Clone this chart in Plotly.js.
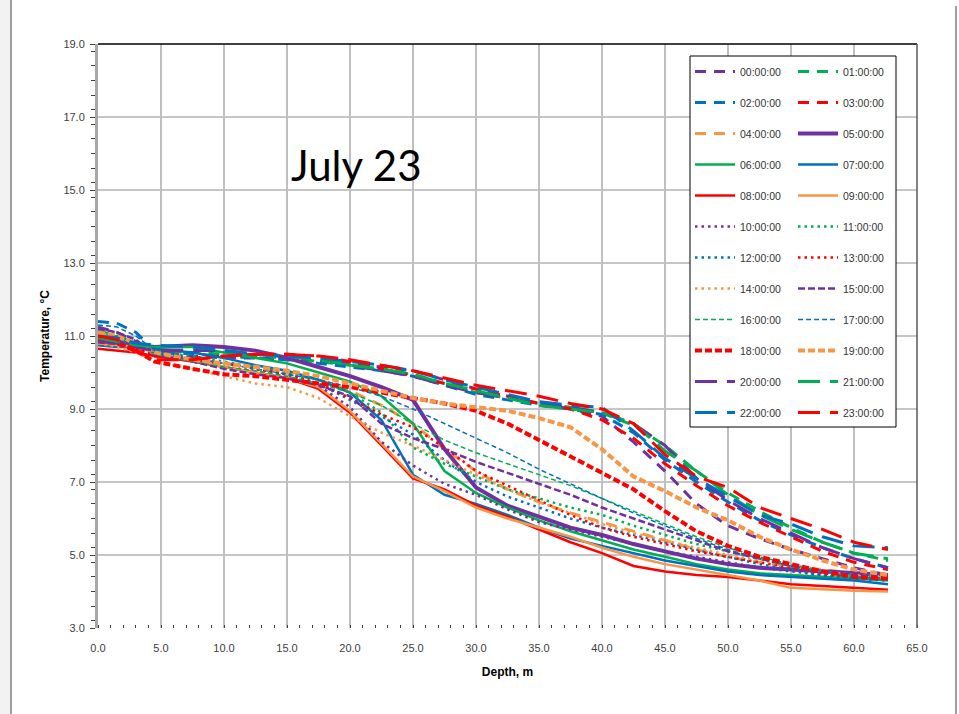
<!DOCTYPE html>
<html><head><meta charset="utf-8">
<script src="https://cdn.plot.ly/plotly-3.0.1.min.js"></script>
<style>html,body{margin:0;padding:0;background:#fff;} #chart{width:959px;height:714px;}</style>
</head><body><div id="chart"></div>
<script>
// Depth (m)
const depth = [0, 1.5, 3, 4.5, 7.5, 10, 12.5, 15, 17.5, 20, 22.5, 25, 27.5, 30, 32.5, 35, 37.5, 40, 42.5, 45, 47.5, 50, 52.5, 55, 57.5, 60, 62.7];

// Temperature (°C) per hour
const t00 = [11.25, 11.1, 10.85, 10.55, 10.45, 10.4, 10.4, 10.35, 10.3, 10.25, 10.15, 10.05, 9.8, 9.55, 9.35, 9.15, 9.0, 8.8, 8.1, 7.3, 6.4, 5.8, 5.45, 5.15, 4.9, 4.65, 4.45];
const t01 = [11.15, 11.0, 10.8, 10.6, 10.55, 10.5, 10.45, 10.4, 10.3, 10.2, 10.05, 9.95, 9.7, 9.45, 9.3, 9.15, 9.05, 8.9, 8.55, 8.0, 7.3, 6.7, 6.2, 5.75, 5.35, 5.05, 4.85];
const t02 = [11.4, 11.35, 11.1, 10.6, 10.5, 10.45, 10.4, 10.35, 10.25, 10.15, 10.05, 9.9, 9.65, 9.4, 9.25, 9.1, 9.0, 8.85, 8.35, 7.6, 7.0, 6.45, 5.95, 5.55, 5.2, 4.9, 4.65];
const t03 = [11.0, 10.9, 10.7, 10.45, 10.4, 10.45, 10.5, 10.5, 10.45, 10.3, 10.1, 9.9, 9.7, 9.55, 9.35, 9.15, 9.0, 8.7, 8.2, 7.5, 6.9, 6.35, 5.9, 5.5, 5.1, 4.8, 4.6];
const t04 = [11.1, 10.95, 10.75, 10.5, 10.35, 10.25, 10.15, 10.0, 9.8, 9.5, 9.1, 8.6, 7.9, 7.3, 6.8, 6.45, 6.15, 5.9, 5.65, 5.4, 5.15, 4.95, 4.8, 4.7, 4.6, 4.5, 4.45];
const t05 = [10.9, 10.85, 10.75, 10.7, 10.75, 10.7, 10.6, 10.4, 10.15, 9.9, 9.6, 9.25, 7.9, 6.85, 6.35, 6.05, 5.75, 5.55, 5.3, 5.1, 4.9, 4.75, 4.65, 4.6, 4.55, 4.5, 4.45];
const t06 = [10.8, 10.75, 10.7, 10.7, 10.7, 10.55, 10.4, 10.25, 10.0, 9.75, 9.35, 8.6, 7.3, 6.7, 6.3, 5.95, 5.65, 5.4, 5.15, 4.95, 4.75, 4.6, 4.5, 4.45, 4.4, 4.35, 4.3];
const t07 = [10.75, 10.7, 10.7, 10.65, 10.55, 10.4, 10.2, 10.05, 9.8, 9.45, 8.7, 7.2, 6.65, 6.4, 6.1, 5.75, 5.45, 5.25, 5.05, 4.85, 4.7, 4.55, 4.45, 4.4, 4.35, 4.3, 4.2];
const t08 = [10.65, 10.6, 10.55, 10.45, 10.3, 10.15, 10.0, 9.85, 9.55, 8.9, 8.0, 7.1, 6.8, 6.35, 6.05, 5.7, 5.35, 5.05, 4.7, 4.55, 4.45, 4.4, 4.3, 4.2, 4.15, 4.1, 4.05];
const t09 = [10.8, 10.75, 10.7, 10.55, 10.35, 10.15, 10.0, 9.85, 9.6, 8.95, 8.05, 7.15, 6.75, 6.3, 6.0, 5.75, 5.5, 5.2, 4.95, 4.75, 4.6, 4.45, 4.3, 4.1, 4.05, 4.02, 4.0];
const t10 = [10.9, 10.85, 10.7, 10.5, 10.35, 10.25, 10.1, 9.95, 9.65, 9.05, 8.1, 7.45, 6.95, 6.65, 6.25, 5.9, 5.7, 5.5, 5.3, 5.1, 4.95, 4.8, 4.65, 4.55, 4.45, 4.4, 4.35];
const t11 = [10.95, 10.9, 10.75, 10.55, 10.45, 10.3, 10.15, 10.0, 9.8, 9.45, 8.9, 7.95, 7.5, 7.15, 6.8, 6.55, 6.3, 6.1, 5.8, 5.55, 5.3, 5.1, 4.9, 4.7, 4.55, 4.45, 4.4];
const t12 = [11.0, 10.9, 10.75, 10.55, 10.4, 10.25, 10.1, 9.95, 9.7, 9.25, 8.8, 8.3, 7.6, 7.0, 6.6, 6.3, 6.0, 5.75, 5.55, 5.35, 5.15, 4.95, 4.75, 4.6, 4.45, 4.35, 4.3];
const t13 = [10.9, 10.8, 10.65, 10.45, 10.35, 10.25, 10.1, 9.95, 9.7, 9.3, 8.85, 8.5, 7.95, 7.3, 6.9, 6.5, 6.1, 5.75, 5.5, 5.3, 5.1, 4.95, 4.8, 4.65, 4.5, 4.4, 4.35];
const t14 = [10.8, 10.7, 10.55, 10.3, 10.1, 9.9, 9.7, 9.6, 9.3, 8.8, 8.35, 8.0, 7.6, 7.2, 6.8, 6.45, 6.15, 5.85, 5.6, 5.4, 5.2, 5.0, 4.85, 4.7, 4.55, 4.45, 4.4];
const t15 = [11.2, 11.1, 10.9, 10.5, 10.3, 10.1, 9.95, 9.85, 9.65, 9.35, 8.6, 8.2, 7.9, 7.55, 7.25, 6.95, 6.65, 6.3, 6.0, 5.7, 5.4, 5.1, 4.9, 4.7, 4.55, 4.45, 4.4];
const t16 = [11.1, 11.0, 10.8, 10.5, 10.3, 10.15, 10.05, 9.9, 9.7, 9.45, 9.1, 8.6, 8.15, 7.8, 7.5, 7.2, 6.9, 6.55, 6.2, 5.85, 5.5, 5.2, 4.95, 4.75, 4.55, 4.4, 4.35];
const t17 = [11.3, 11.25, 11.0, 10.6, 10.4, 10.25, 10.1, 9.95, 9.8, 9.6, 9.35, 9.0, 8.6, 8.2, 7.8, 7.35, 6.95, 6.55, 6.15, 5.8, 5.45, 5.15, 4.9, 4.7, 4.55, 4.4, 4.35];
const t18 = [10.85, 10.8, 10.6, 10.3, 10.1, 9.95, 9.9, 9.8, 9.7, 9.6, 9.45, 9.3, 9.15, 8.95, 8.6, 8.15, 7.7, 7.25, 6.8, 6.2, 5.65, 5.25, 4.95, 4.75, 4.55, 4.4, 4.35];
const t19 = [11.1, 11.0, 10.8, 10.55, 10.35, 10.25, 10.15, 10.05, 9.9, 9.7, 9.5, 9.3, 9.15, 9.05, 8.95, 8.75, 8.5, 7.9, 7.15, 6.75, 6.3, 5.95, 5.5, 5.15, 4.85, 4.6, 4.45];
const t20 = [10.85, 10.8, 10.7, 10.6, 10.6, 10.6, 10.5, 10.45, 10.35, 10.2, 10.05, 9.9, 9.65, 9.45, 9.3, 9.15, 9.05, 8.9, 8.6, 8.0, 7.1, 6.5, 6.0, 5.6, 5.2, 4.9, 4.65];
const t21 = [10.95, 10.85, 10.75, 10.7, 10.7, 10.6, 10.5, 10.45, 10.35, 10.2, 10.1, 9.95, 9.7, 9.5, 9.3, 9.1, 9.0, 8.9, 8.6, 7.85, 7.3, 6.65, 6.1, 5.7, 5.35, 5.05, 4.9];
const t22 = [11.0, 10.95, 10.8, 10.75, 10.7, 10.6, 10.5, 10.45, 10.4, 10.3, 10.2, 10.05, 9.8, 9.6, 9.4, 9.2, 9.1, 9.05, 8.4, 7.65, 7.1, 6.6, 6.1, 5.85, 5.5, 5.25, 5.2];
const t23 = [11.0, 10.9, 10.6, 10.35, 10.35, 10.45, 10.5, 10.5, 10.45, 10.35, 10.2, 10.05, 9.85, 9.65, 9.5, 9.35, 9.15, 9.0, 8.6, 7.75, 7.15, 6.85, 6.3, 6.0, 5.7, 5.35, 5.15];

const seriesNames = ['00:00:00','01:00:00','02:00:00','03:00:00','04:00:00','05:00:00','06:00:00','07:00:00',
  '08:00:00','09:00:00','10:00:00','11:00:00','12:00:00','13:00:00','14:00:00','15:00:00','16:00:00',
  '17:00:00','18:00:00','19:00:00','20:00:00','21:00:00','22:00:00','23:00:00'];
const series = [t00,t01,t02,t03,t04,t05,t06,t07,t08,t09,t10,t11,t12,t13,t14,t15,t16,t17,t18,t19,t20,t21,t22,t23];

const xTickValues = [0,5,10,15,20,25,30,35,40,45,50,55,60,65];
const yTickValues = [3,5,7,9,11,13,15,17,19];
const yGridValues = [5,7,9,11,13,15,17];

const palette = ['#7030A0','#00B050','#0070C0','#FF0000','#F79646'];
function lineStyle(i){
  const c = palette[i % 5];
  if (i < 5) return {color:c, width:3, dash:'11px,8px'};
  if (i < 10) return {color:c, width:(i === 5 ? 4 : 2.5), dash:'solid'};
  if (i < 15) return {color:c, width:2.5, dash:'2.5px,4px'};
  if (i < 20) {
    if (i === 15) return {color:c, width:2.5, dash:'7px,3px'};
    if (i < 18) return {color:c, width:1.5, dash:'5px,3px'};
    return {color:c, width:4, dash:'7px,3px'};
  }
  return {color:c, width:3, dash:'22px,10px'};
}

const traces = series.map((vals, i) => ({
  type:'scatter', mode:'lines', x:depth, y:vals, name:seriesNames[i],
  line:lineStyle(i), legendgroup:seriesNames[i],
  legend:(i % 2 === 0 ? 'legend' : 'legend2'), hoverinfo:'skip'
}));

const W = 959, H = 714, L = 98, R = 917, T = 44, B = 628;
const px = v => (v - L) / (R - L);
const py = v => (B - v) / (B - T);

const shapes = [];
yGridValues.forEach(v => shapes.push({type:'line', xref:'paper', yref:'y', x0:0, x1:1, y0:v, y1:v,
  line:{color:'#8C8C8C', width:1}, layer:'below'}));
shapes.push({type:'rect', xref:'paper', yref:'paper', x0:px(690), x1:px(896), y0:py(427), y1:py(56),
  fillcolor:'#ffffff', line:{color:'#000000', width:1}, layer:'above'});
shapes.push({type:'line', xref:'paper', yref:'paper', x0:0, x1:1, y0:1, y1:1, line:{color:'#000', width:1.5}, layer:'above'});
shapes.push({type:'line', xref:'paper', yref:'paper', x0:1, x1:1, y0:0, y1:1, line:{color:'#595959', width:1.5}, layer:'above'});
shapes.push({type:'rect', xref:'paper', yref:'paper', x0:px(0), x1:px(11), y0:py(714), y1:py(0), fillcolor:'#f2f2f2', line:{width:0}, layer:'below'});
shapes.push({type:'line', xref:'paper', yref:'paper', x0:px(11), x1:px(11), y0:py(714), y1:py(0), line:{color:'#7f7f7f', width:1.5}});
shapes.push({type:'line', xref:'paper', yref:'paper', x0:px(956), x1:px(956), y0:py(714), y1:py(6), line:{color:'#7f7f7f', width:1.5}});

const tickFont = {family:'Liberation Sans Narrow, Liberation Sans, Arial, sans-serif', size:11, color:'#404040'};
const legendFont = {family:'Liberation Sans, Arial, sans-serif', size:10.5, color:'#333'};

const layout = {
  width:W, height:H,
  margin:{l:L, r:W-R, t:T, b:H-B, pad:0},
  paper_bgcolor:'#ffffff', plot_bgcolor:'#ffffff',
  font:{family:'Liberation Sans, Arial, sans-serif', size:11, color:'#404040'},
  showlegend:true,
  xaxis:{range:[0,65], tickvals:xTickValues, tickformat:'.1f', showgrid:true, gridcolor:'#BFBFBF', gridwidth:2,
    zeroline:false, showline:false, ticks:'', tickfont:tickFont, automargin:false, fixedrange:true,
    ticklabelstandoff:12,
    minor:{dtick:1, ticks:'inside', ticklen:3, tickcolor:'#404040', tickwidth:1, showgrid:false},
    title:{text:'<b>Depth, m</b>', font:{family:'Liberation Sans, Arial, sans-serif', size:12, color:'#000'}, standoff:14}},
  yaxis:{range:[3,19], tickvals:yTickValues, tickformat:'.1f', showgrid:false, zeroline:false,
    showline:true, linecolor:'#A6A6A6', linewidth:3, ticks:'outside', ticklen:5, tickcolor:'#404040', tickwidth:1,
    tickfont:tickFont, automargin:false, fixedrange:true, ticklabelstandoff:3,
    minor:{dtick:0.4, ticks:'outside', ticklen:4, tickcolor:'#404040', tickwidth:1, showgrid:false},
    title:{text:'<b>Temperature, °C</b>', font:{family:'Liberation Sans, Arial, sans-serif', size:12, color:'#000'}, standoff:12}},
  legend:{x:px(690), xanchor:'left', y:py(57), yanchor:'top', bgcolor:'rgba(0,0,0,0)', borderwidth:0,
    font:legendFont, tracegroupgap:12, itemwidth:40, traceorder:'grouped', itemclick:false, itemdoubleclick:false},
  legend2:{x:px(793), xanchor:'left', y:py(57), yanchor:'top', bgcolor:'rgba(0,0,0,0)', borderwidth:0,
    font:legendFont, tracegroupgap:12, itemwidth:40, traceorder:'grouped', itemclick:false, itemdoubleclick:false},
  shapes:shapes,
  annotations:[{text:'July 23', xref:'paper', yref:'paper', x:px(356), y:py(165), xanchor:'center', yanchor:'middle',
    showarrow:false, font:{family:'Lato, Liberation Sans, sans-serif', size:42, color:'#000'}}]
};

Plotly.newPlot('chart', traces, layout, {displayModeBar:false, staticPlot:true});
</script>
</body></html>
